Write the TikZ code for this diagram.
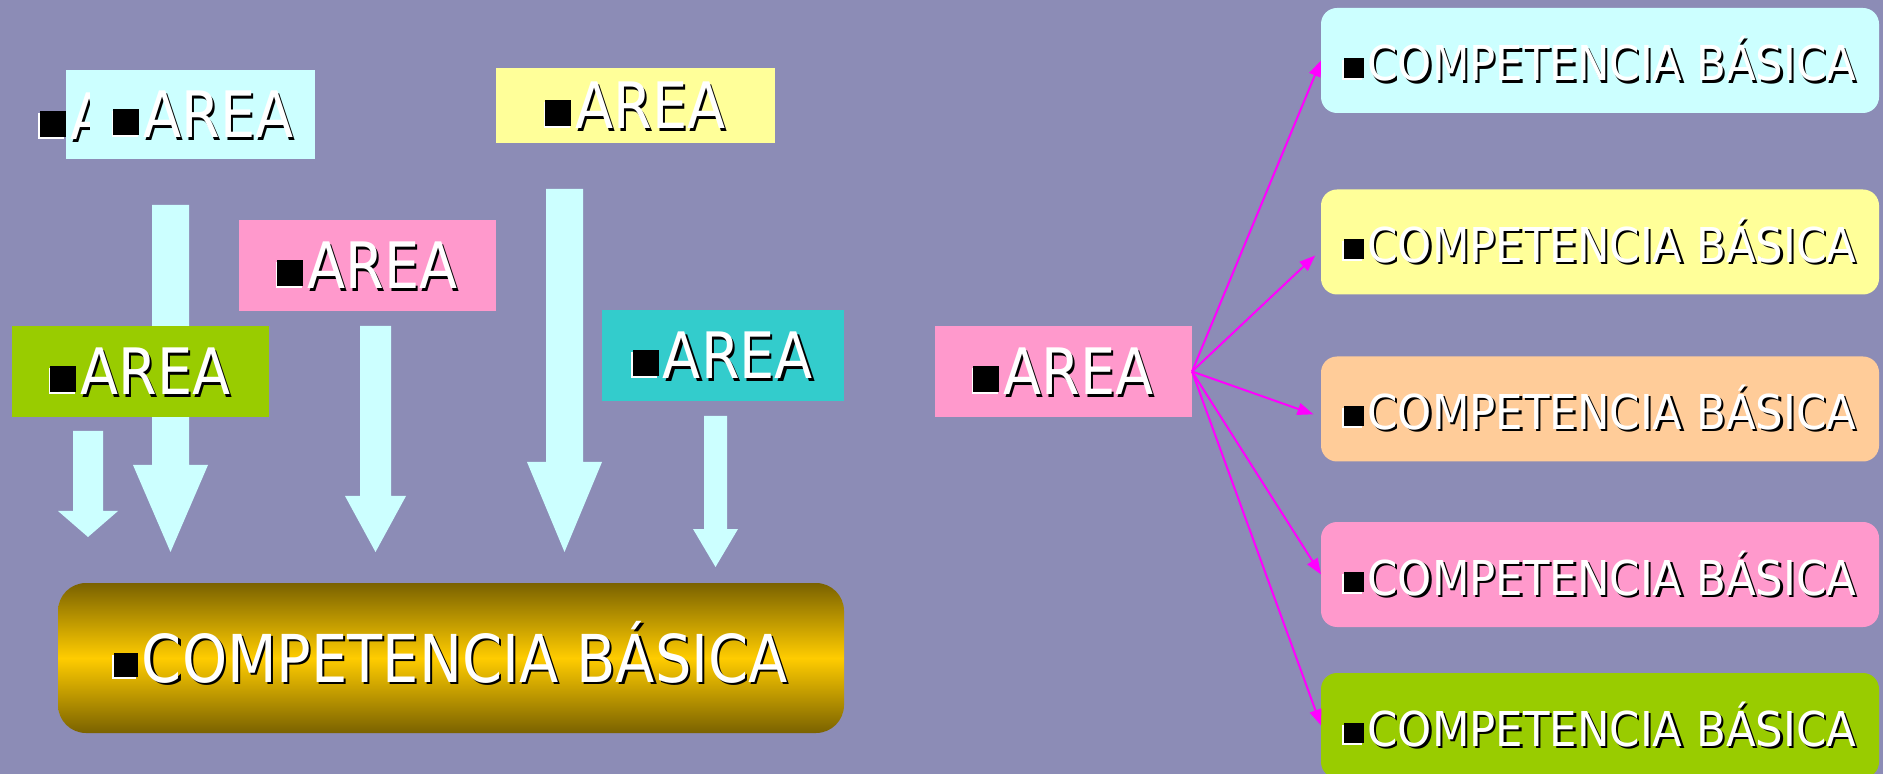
\documentclass[tikz,border=0pt]{standalone}
\usepackage{fontspec}
\setmainfont{DejaVu Sans}
\usepackage{graphicx}
\usetikzlibrary{arrows.meta}

\definecolor{fondo}{RGB}{140,140,182}
\definecolor{celeste}{HTML}{CCFFFF}
\definecolor{amarillo}{HTML}{FFFF99}
\definecolor{rosa}{HTML}{FF99CC}
\definecolor{lima}{HTML}{99CC00}
\definecolor{turquesa}{HTML}{33CCCC}
\definecolor{melocoton}{HTML}{FFCC99}
\definecolor{oroclaro}{HTML}{FFCC00}
\definecolor{orooscuro}{RGB}{122,98,0}
\definecolor{fucsia}{HTML}{FF00FF}

% square bullet: size, raise
\newcommand\sqbul[2]{\raisebox{#2}{\makebox[0pt][l]{\hspace{-0.8pt}\raisebox{-0.8pt}{\color{white}\rule{#1}{#1}}}{\color{black}\rule{#1}{#1}}}}
% white letters with a black shadow
\newcommand\sombra[1]{{\makebox[0pt][l]{\hspace{1.2pt}\raisebox{-1.2pt}{\color{black}#1}}\color{white}#1}}
\newcommand\rotulo[4][0.87]{\sqbul{#2}{#3}\hspace{2pt}\scalebox{#1}[1]{\sombra{#4}}}

\begin{document}
\begin{tikzpicture}[x=0.5pt, y=-0.5pt]
    \tikzstyle{every node}=[inner sep=0pt, outer sep=0pt];
    \tikzstyle{areabox}=[rectangle, font=\fontsize{32}{36}\selectfont, text height=23.5pt, text depth=0pt, minimum width=128.5pt, minimum height=45.5pt];
    \tikzstyle{compbox}=[rectangle, rounded corners=8pt, font=\fontsize{24}{28}\selectfont, text height=20.5pt, text depth=0pt, minimum width=279pt, minimum height=52.5pt];
    \tikzstyle{flecha}=[-{Triangle[length=8pt, width=6pt]}, draw=fucsia, line width=1pt];

    \useasboundingbox (0,0) rectangle (1883,774);
    \fill[fondo] (0,0) rectangle (1883,774);

    % block arrows: centre / half shaft / top / head base / half head / tip
    \foreach \c/\w/\t/\b/\h/\p in {170.5/18.5/205/465/37.5/552, 88/15/431/511/30/537,
        375.5/15.5/326/496/30.5/552, 564.5/18.5/189/462/37.5/552, 715.5/11.5/416/529/22.5/567}
        \fill[celeste] (\c-\w,\t) -- (\c+\w,\t) -- (\c+\w,\b) -- (\c+\h,\b)
            -- (\c,\p) -- (\c-\h,\b) -- (\c-\w,\b) -- cycle;

    \node at (190.5,114.5) (ar1) [areabox, fill=celeste, minimum width=124.5pt, minimum height=44.5pt] {\hspace*{13pt}\rotulo{13pt}{1.5pt}{AREA}};
    \node at (635.5,105.5) (ar2) [areabox, fill=amarillo, minimum width=139.5pt, minimum height=37.5pt] {\rotulo{13pt}{1.5pt}{AREA}};
    \node at (367.5,265.5) (ar3) [areabox, fill=rosa] {\rotulo{13pt}{1.5pt}{AREA}};
    \node at (140.5,371.5) (ar4) [areabox, fill=lima] {\rotulo{13pt}{1.5pt}{AREA}};
    \node at (723,355.5) (ar5) [areabox, fill=turquesa, minimum width=121pt] {\rotulo{13pt}{1.5pt}{AREA}};

    \begin{scope}
        \clip (0,60) rectangle (89,170);
        \node at (40,140) (ar0) [anchor=base west, font=\fontsize{32}{36}\selectfont] {\rotulo{13pt}{1.5pt}{A}};
    \end{scope}

    \node at (451,658) (base) [rectangle, rounded corners=14pt, top color=orooscuro, bottom color=orooscuro, middle color=oroclaro,
        font=\fontsize{33}{38}\selectfont, text height=24pt, text depth=0pt, minimum width=393pt, minimum height=75pt]
        {\rotulo{12pt}{2.5pt}{COMPETENCIA BÁSICA}};

    \node at (1063.5,371.5) (area) [areabox, fill=rosa] {\rotulo{13pt}{1.5pt}{AREA}};

    \node at (1600,60.5) (cb1) [compbox, fill=celeste] {\rotulo[0.905]{10pt}{1.5pt}{COMPETENCIA BÁSICA}};
    \node at (1600,242) (cb2) [compbox, fill=amarillo] {\rotulo[0.905]{10pt}{1.5pt}{COMPETENCIA BÁSICA}};
    \node at (1600,409) (cb3) [compbox, fill=melocoton] {\rotulo[0.905]{10pt}{1.5pt}{COMPETENCIA BÁSICA}};
    \node at (1600,574.5) (cb4) [compbox, fill=rosa] {\rotulo[0.905]{10pt}{1.5pt}{COMPETENCIA BÁSICA}};
    \node at (1600,725.5) (cb5) [compbox, fill=lima] {\rotulo[0.905]{10pt}{1.5pt}{COMPETENCIA BÁSICA}};

    \draw[flecha] (area.east) -- (cb1.west);
    \draw[flecha, shorten >=4pt] (area.east) -- ([yshift=-4pt]cb2.west);
    \draw[flecha, shorten >=4pt] (area.east) -- ([yshift=-4pt]cb3.west);
    \draw[flecha] (area.east) -- (cb4.west);
    \draw[flecha] (area.east) -- (cb5.west);
\end{tikzpicture}
\end{document}
